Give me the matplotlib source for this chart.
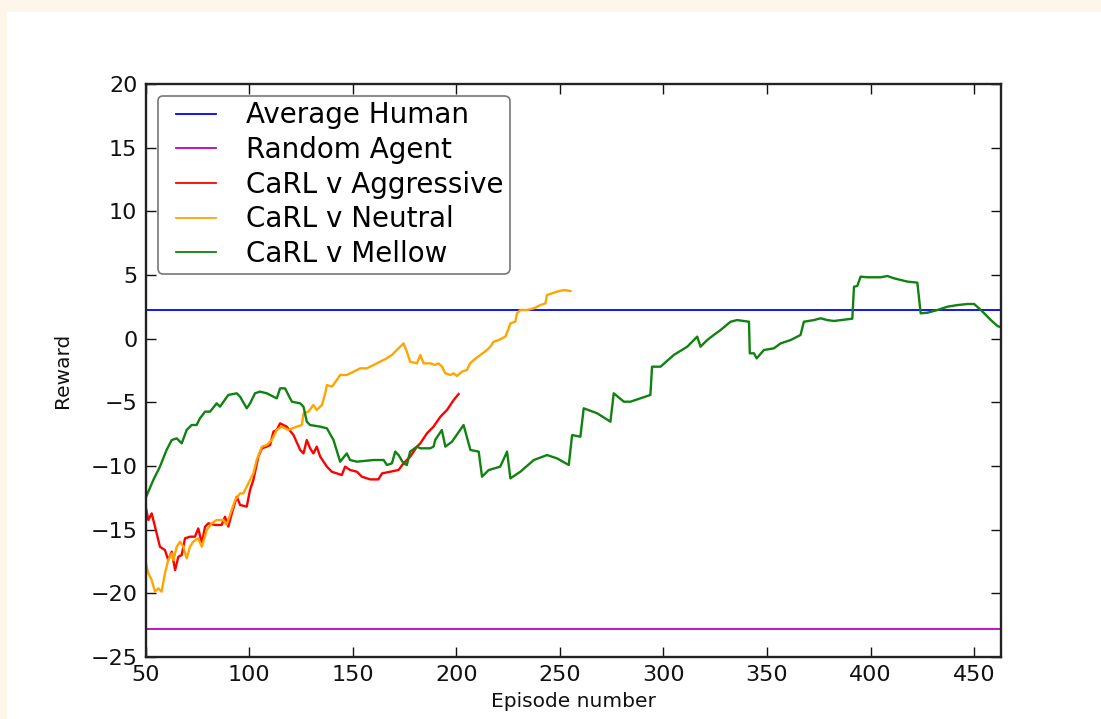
import matplotlib
matplotlib.use("Agg")
import matplotlib.pyplot as plt
import numpy as np
from matplotlib.patches import Rectangle

# reference levels
average_human = 2.25
random_agent = -22.8

# CaRL v Aggressive
aggr_ep = [50, 51.3, 52.9, 54.5, 56.9, 59.3, 60.9, 62.6, 64.2, 65.8, 67.4, 69.0, 71.4, 73.8,
           75.4, 77.1, 78.7, 80.3, 83.5, 86.7, 88.3, 89.9, 91.6, 94.0, 95.6, 98.8, 100.4,
           102.0, 104.4, 106.1, 108.5, 110.1, 111.7, 113.3, 114.9, 118.1, 121.4, 124.6,
           126.2, 127.8, 129.4, 131.0, 132.6, 134.3, 137.5, 139.9, 142.3, 144.7, 146.3,
           148.7, 152.0, 154.4, 158.4, 162.4, 164.1, 168.1, 172.1, 174.5, 177.7, 181.0,
           182.6, 185.8, 189.0, 192.3, 195.5, 198.7, 201.1]
aggr_val = [-13.2, -14.24, -13.72, -14.76, -16.34, -16.60, -17.38, -16.73, -18.17, -17.12,
            -16.99, -15.68, -15.55, -15.55, -14.90, -16.07, -14.76, -14.50, -14.63, -14.63,
            -13.98, -14.76, -13.72, -12.41, -13.06, -13.19, -11.88, -11.10, -9.27, -8.61,
            -8.48, -8.35, -7.30, -7.17, -6.65, -6.91, -7.57, -8.74, -9.01, -7.96, -8.61,
            -9.01, -8.48, -9.27, -10.05, -10.45, -10.58, -10.71, -10.05, -10.31, -10.45,
            -10.84, -11.05, -11.05, -10.58, -10.45, -10.31, -9.79, -9.27, -8.48,
            -8.22, -7.44, -6.91, -6.13, -5.60, -4.82, -4.35]

# CaRL v Neutral
neut_ep = [50, 51.3, 52.9, 54.5, 56.1, 57.7, 59.3, 60.9, 62.6, 63.4, 65.0, 66.6, 68.2, 69.8,
           71.4, 73.0, 75.4, 77.1, 79.5, 81.9, 84.3, 87.5, 89.1, 90.7, 93.2, 95.6, 97.2,
           98.8, 100.4, 102.0, 103.6, 106.1, 108.5, 110.9, 113.3, 115.7, 118.9, 123.0,
           125.4, 126.2, 128.6, 131.0, 132.6, 135.1, 136.7, 137.5, 139.9, 142.3, 143.9,
           147.1, 150.4, 153.6, 156.8, 160.0, 163.2, 166.5, 168.9, 171.3, 174.5, 176.1,
           177.7, 181.0, 182.6, 184.2, 187.4, 189.8, 191.4, 193.1, 194.7, 197.1, 198.7,
           200.3, 202.7, 205.1, 206.7, 208.4, 211.6, 214.8, 216.4, 218.0, 220.4, 223.7,
           225.3, 226.1, 228.5, 229.3, 230.9, 234.1, 237.4, 239.0, 240.6, 243.0, 243.8,
           246.2, 248.6, 251.9, 255.1]
neut_val = [-17.6, -18.43, -18.95, -19.87, -19.61, -19.87, -18.43, -17.38, -16.86, -17.38,
            -16.34, -15.94, -16.34, -17.25, -16.34, -15.94, -15.68, -16.34, -15.03, -14.50,
            -14.24, -14.24, -14.63, -13.85, -12.67, -12.15, -12.15, -11.62, -11.10, -10.58,
            -9.53, -8.48, -8.35, -7.96, -7.17, -6.91, -7.17, -6.91, -6.78, -5.87, -5.73,
            -5.21, -5.60, -5.21, -4.29, -3.64, -3.77, -3.25, -2.85, -2.85, -2.59, -2.33,
            -2.33, -2.07, -1.81, -1.54, -1.28, -0.89, -0.37, -1.02, -1.81, -1.94, -1.28,
            -1.94, -1.94, -2.07, -1.94, -2.20, -2.72, -2.85, -2.72, -2.93, -2.59, -2.46,
            -1.94, -1.68, -1.28, -0.89, -0.63, -0.24, -0.11, 0.16, 0.81, 1.20, 1.33, 1.99,
            2.25, 2.25, 2.38, 2.51, 2.64, 2.77, 3.43, 3.56, 3.69, 3.82, 3.74]

# CaRL v Mellow
mell_ep = [50, 53.7, 56.9, 60.1, 62.6, 65.0, 67.4, 69.8, 72.2, 74.6, 76.2, 78.7, 81.1, 84.3,
           85.9, 89.9, 94.0, 95.6, 98.8, 100.4, 102.8, 105.2, 108.5, 113.3, 114.9, 117.3,
           118.9, 120.6, 124.6, 126.2, 127.8, 129.4, 134.3, 137.5, 140.7, 143.9, 147.1,
           148.7, 152.0, 160.0, 164.9, 166.5, 168.9, 170.5, 172.1, 174.5, 176.1, 177.7,
           181.0, 182.6, 187.4, 189.0, 189.8, 193.0, 194.7, 197.9, 203.5, 206.8, 210.8,
           212.4, 215.6, 221.2, 224.5, 226.1, 230.9, 237.4, 243.8, 248.6, 254.3, 255.9,
           259.9, 261.5, 268.0, 274.4, 276.0, 280.9, 284.1, 293.7, 294.5, 298.6, 305.0,
           311.5, 316.3, 317.9, 321.1, 324.3, 327.6, 332.4, 335.6, 341.3, 341.7, 343.7,
           345.0, 348.5, 353.3, 356.6, 361.4, 366.2, 367.8, 372.7, 375.9, 379.1, 382.3,
           388.8, 391.2, 392.0, 393.6, 395.2, 398.5, 404.9, 408.1, 411.3, 417.8, 422.6,
           424.2, 427.5, 432.3, 437.1, 442.0, 446.8, 450.0, 452.4, 454.9, 458.1, 461.3,
           463.0]
mell_val = [-12.5, -11.10, -10.05, -8.74, -7.96, -7.83, -8.22, -7.17, -6.78, -6.78, -6.26,
            -5.73, -5.73, -5.08, -5.34, -4.42, -4.29, -4.56, -5.47, -5.08, -4.29, -4.16,
            -4.29, -4.69, -3.90, -3.90, -4.42, -4.95, -5.08, -5.34, -6.52, -6.78, -6.91,
            -7.04, -7.96, -9.66, -9.01, -9.53, -9.66, -9.53, -9.53, -9.92, -9.79, -8.87,
            -9.14, -9.79, -9.92, -8.87, -8.48, -8.61, -8.61, -8.48, -7.96, -7.17, -8.48,
            -8.09, -6.78, -8.74, -8.87, -10.84, -10.32, -10.05, -8.87, -10.97, -10.45,
            -9.53, -9.14, -9.40, -9.92, -7.57, -7.70, -5.47, -5.86, -6.52, -4.29, -4.95,
            -4.95, -4.42, -2.20, -2.20, -1.28, -0.63, 0.16, -0.63, -0.11, 0.29, 0.68, 1.33,
            1.46, 1.33, -1.15, -1.15, -1.55, -0.89, -0.76, -0.37, -0.11, 0.29, 1.33, 1.46,
            1.60, 1.46, 1.39, 1.52, 1.57, 4.08, 4.14, 4.87, 4.82, 4.82, 4.92, 4.74, 4.48,
            4.40, 1.99, 2.04, 2.25, 2.51, 2.64, 2.72, 2.72, 2.38, 1.99, 1.46, 0.99, 0.89]

x_min, x_max = 50, 463

plt.rcParams["font.family"] = ["DejaVu Sans"]

fig = plt.figure(figsize=(11.01, 7.19), dpi=100)
fig.patch.set_facecolor("#fdf6ea")
fig.patches.append(Rectangle((7 / 1101, 0), 1, 1 - 12 / 719, transform=fig.transFigure,
                             facecolor="white", edgecolor="none", zorder=-1))

ax = fig.add_axes([0.1323, 0.0862, 0.9092 - 0.1323, 0.8832 - 0.0862])

lw = 1.7
ax.axhline(average_human, color="#0000ff", lw=1.3, label="Average Human")
ax.axhline(random_agent, color="#bf00bf", lw=1.3, label="Random Agent")
ax.plot(aggr_ep, aggr_val, color="#ff0000", lw=lw, label="CaRL v Aggressive")
ax.plot(neut_ep, neut_val, color="#ffa500", lw=lw, label="CaRL v Neutral")
ax.plot(mell_ep, mell_val, color="#0f820f", lw=lw, label="CaRL v Mellow")

ax.set_xlim(x_min, x_max)
ax.set_ylim(-25, 20)
ax.set_xticks(range(50, 451, 50))
ax.set_yticks(range(-25, 21, 5))

ax.tick_params(direction="in", top=True, right=True, length=7, width=1, labelsize=16,
               pad=6, colors="#111111")
for s in ax.spines.values():
    s.set_linewidth(1.7)
    s.set_color("#222222")

ax.set_xlabel("Episode number", fontsize=14.5, color="#111111", labelpad=5)
ax.set_ylabel("Reward", fontsize=14.5, color="#111111", labelpad=13)

leg = ax.legend(loc="upper left", fontsize=20, fancybox=True, handlelength=1.9,
                handletextpad=1.1, labelspacing=0.24, borderpad=0.2, borderaxespad=0.43)
leg.get_frame().set_edgecolor("#555555")
leg.get_frame().set_linewidth(1.2)
# legend handles start a little inside the frame
for h in leg.get_lines():
    h.set_linewidth(1.3)
    xd = np.asarray(h.get_xdata(), dtype=float)
    h.set_xdata(np.linspace(xd[0] + 9.4, xd[-1], len(xd)))

fig.savefig("out.png", dpi=100, facecolor=fig.get_facecolor())
